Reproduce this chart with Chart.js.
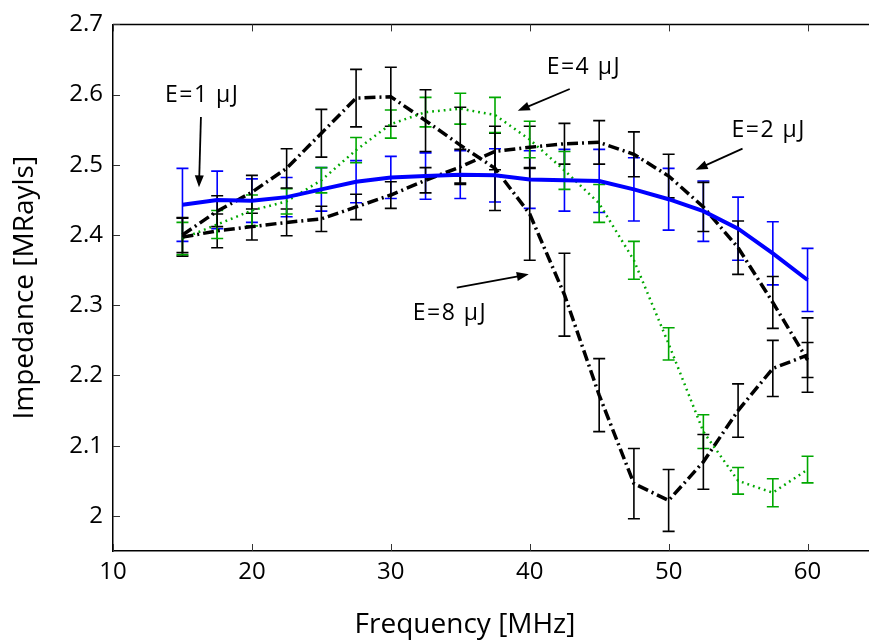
<!DOCTYPE html>
<html>
<head>
<meta charset="utf-8">
<script src="https://cdn.jsdelivr.net/npm/chart.js@4.4.0/dist/chart.umd.min.js"></script>
<style>
  html, body { margin: 0; padding: 0; overflow: hidden; background: #fff; }
  canvas { display: block; }
</style>
</head>
<body>
<canvas id="graph" width="878" height="643" style="width:878px;height:643px"></canvas>
<script>
// frequency [MHz]
const freq = [15, 17.5, 20, 22.5, 25, 27.5, 30, 32.5, 35, 37.5, 40, 42.5, 45, 47.5, 50, 52.5, 55, 57.5, 60];

// impedance [MRayls] and error (half bar) per energy
const e1 = [2.443, 2.45, 2.449, 2.454, 2.465, 2.476, 2.482, 2.484, 2.486, 2.485, 2.479, 2.478, 2.477, 2.465, 2.451, 2.434, 2.409, 2.374, 2.336];
const e1Err = [0.052, 0.041, 0.031, 0.028, 0.031, 0.03, 0.03, 0.033, 0.034, 0.038, 0.041, 0.044, 0.045, 0.045, 0.044, 0.043, 0.045, 0.045, 0.045];

const e2 = [2.397, 2.406, 2.412, 2.418, 2.423, 2.44, 2.457, 2.478, 2.497, 2.519, 2.525, 2.53, 2.532, 2.515, 2.484, 2.44, 2.382, 2.304, 2.222];
const e2Err = [0.027, 0.024, 0.019, 0.019, 0.018, 0.018, 0.019, 0.018, 0.025, 0.026, 0.03, 0.029, 0.031, 0.032, 0.031, 0.035, 0.038, 0.037, 0.025];

const e4 = [2.395, 2.415, 2.435, 2.448, 2.478, 2.521, 2.558, 2.575, 2.58, 2.571, 2.536, 2.492, 2.445, 2.364, 2.245, 2.12, 2.05, 2.033, 2.066];
const e4Err = [0.023, 0.02, 0.022, 0.018, 0.018, 0.018, 0.02, 0.021, 0.022, 0.025, 0.026, 0.027, 0.027, 0.027, 0.023, 0.024, 0.019, 0.02, 0.019];

const e8 = [2.4, 2.434, 2.461, 2.495, 2.545, 2.595, 2.597, 2.563, 2.528, 2.495, 2.43, 2.315, 2.172, 2.046, 2.022, 2.077, 2.15, 2.21, 2.229];
const e8Err = [0.025, 0.022, 0.024, 0.028, 0.034, 0.041, 0.042, 0.044, 0.054, 0.06, 0.066, 0.059, 0.052, 0.05, 0.044, 0.039, 0.038, 0.04, 0.053];

const xTicks = [10, 20, 30, 40, 50, 60];
const yTicks = [2, 2.1, 2.2, 2.3, 2.4, 2.5, 2.6, 2.7];

// labels with arrows, in data coordinates
const notes = [
  { label: "E=1 μJ", at: [13.74, 2.589], from: [16.33, 2.568], to: [16.19, 2.468] },
  { label: "E=4 μJ", at: [41.22, 2.630], from: [42.88, 2.608], to: [39.14, 2.577] },
  { label: "E=2 μJ", at: [54.53, 2.539], from: [55.32, 2.523], to: [51.94, 2.493] },
  { label: "E=8 μJ", at: [31.58, 2.279], from: [34.75, 2.325], to: [39.93, 2.344] },
];

const FONT = '"Open Sans", "DejaVu Sans", sans-serif';

const errorBars = {
  id: "errorBars",
  beforeDatasetsDraw(chart) {
    const { ctx, scales: { x, y } } = chart;
    ctx.save();
    chart.data.datasets.forEach((ds) => {
      ctx.strokeStyle = ds.barColor;
      ctx.lineWidth = 1.6;
      ds.data.forEach((p, i) => {
        const px = x.getPixelForValue(p.x);
        const top = y.getPixelForValue(p.y + ds.errors[i]);
        const bot = y.getPixelForValue(p.y - ds.errors[i]);
        ctx.beginPath();
        ctx.moveTo(px, top);
        ctx.lineTo(px, bot);
        ctx.moveTo(px - 6, top);
        ctx.lineTo(px + 6, top);
        ctx.moveTo(px - 6, bot);
        ctx.lineTo(px + 6, bot);
        ctx.stroke();
      });
    });
    ctx.restore();
  },
};

const frame = {
  id: "frame",
  afterDraw(chart) {
    const { ctx, chartArea: a, scales: { x, y } } = chart;
    ctx.save();
    ctx.strokeStyle = "#000";
    ctx.lineWidth = 1.5;
    ctx.beginPath();
    ctx.moveTo(a.left, a.top);
    ctx.lineTo(a.right, a.top);
    ctx.stroke();

    ctx.lineWidth = 1;
    ctx.strokeStyle = "#333";
    ctx.beginPath();
    xTicks.forEach((v) => {
      const px = Math.round(x.getPixelForValue(v)) + 0.5;
      ctx.moveTo(px, a.bottom);
      ctx.lineTo(px, a.bottom - 7);
      ctx.moveTo(px, a.top);
      ctx.lineTo(px, a.top + 7);
    });
    yTicks.forEach((v) => {
      const py = Math.round(y.getPixelForValue(v)) + 0.5;
      ctx.moveTo(a.left, py);
      ctx.lineTo(a.left + 7, py);
    });
    ctx.stroke();

    // axis titles
    ctx.fillStyle = "#000";
    ctx.font = "28px " + FONT;
    ctx.textAlign = "center";
    ctx.textBaseline = "alphabetic";
    ctx.fillText("Frequency [MHz]", 465, 633);
    ctx.translate(33, (a.top + a.bottom) / 2);
    ctx.rotate(-Math.PI / 2);
    ctx.fillText("Impedance [MRayls]", 0, 0);
    ctx.restore();

    // annotations
    ctx.save();
    ctx.fillStyle = "#000";
    ctx.strokeStyle = "#000";
    ctx.font = "23px " + FONT;
    ctx.letterSpacing = "1.5px";
    ctx.textAlign = "left";
    ctx.textBaseline = "alphabetic";
    notes.forEach((n) => {
      ctx.fillText(n.label, x.getPixelForValue(n.at[0]), y.getPixelForValue(n.at[1]));
      const x1 = x.getPixelForValue(n.from[0]);
      const y1 = y.getPixelForValue(n.from[1]);
      const x2 = x.getPixelForValue(n.to[0]);
      const y2 = y.getPixelForValue(n.to[1]);
      const ang = Math.atan2(y2 - y1, x2 - x1);
      const head = 12;
      ctx.lineWidth = 1.8;
      ctx.beginPath();
      ctx.moveTo(x1, y1);
      ctx.lineTo(x2 - Math.cos(ang) * head * 0.8, y2 - Math.sin(ang) * head * 0.8);
      ctx.stroke();
      ctx.beginPath();
      ctx.moveTo(x2, y2);
      ctx.lineTo(x2 - head * Math.cos(ang) + 4.5 * Math.sin(ang), y2 - head * Math.sin(ang) - 4.5 * Math.cos(ang));
      ctx.lineTo(x2 - head * Math.cos(ang) - 4.5 * Math.sin(ang), y2 - head * Math.sin(ang) + 4.5 * Math.cos(ang));
      ctx.closePath();
      ctx.fill();
    });
    ctx.restore();
  },
};

function toPoints(values) {
  return values.map((v, i) => ({ x: freq[i], y: v }));
}

const series = [
  { label: "E=1 μJ", values: e1, errors: e1Err, color: "#0000ff", width: 4, dash: [] },
  { label: "E=2 μJ", values: e2, errors: e2Err, color: "#000", width: 3.5, dash: [11, 4, 2, 4] },
  { label: "E=4 μJ", values: e4, errors: e4Err, color: "#00a800", width: 2.5, dash: [1.8, 4] },
  { label: "E=8 μJ", values: e8, errors: e8Err, color: "#000", width: 3.5, dash: [11, 4, 2, 4] },
];

const ctx = document.getElementById("graph").getContext("2d");
new Chart(ctx, {
  type: "line",
  data: {
    datasets: series.map((s) => ({
      label: s.label,
      data: toPoints(s.values),
      errors: s.errors,
      barColor: s.color,
      borderColor: s.color,
      borderWidth: s.width,
      borderDash: s.dash,
      pointRadius: 0,
      tension: 0,
      fill: false,
    })),
  },
  options: {
    responsive: false,
    animation: false,
    devicePixelRatio: 1,
    layout: { padding: { top: 18, right: 1, left: 0, bottom: 0 } },
    plugins: { legend: { display: false }, tooltip: { enabled: false } },
    scales: {
      x: {
        type: "linear",
        min: 10,
        max: 65,
        afterBuildTicks: (scale) => { scale.ticks = xTicks.map((v) => ({ value: v })); },
        afterFit: (scale) => { scale.height = 92; },
        grid: { drawOnChartArea: false, drawTicks: false },
        border: { display: true, color: "#000", width: 1.5 },
        ticks: { color: "#000", padding: 7, maxRotation: 0, font: { size: 24, family: FONT } },
      },
      y: {
        min: 1.95,
        max: 2.7,
        afterBuildTicks: (scale) => { scale.ticks = yTicks.map((v) => ({ value: v })); },
        afterFit: (scale) => { scale.width = 113; },
        grid: { drawOnChartArea: false, drawTicks: false },
        border: { display: true, color: "#000", width: 1.5 },
        ticks: {
          color: "#000",
          padding: 10,
          font: { size: 24, family: FONT },
          callback: (v) => String(+Number(v).toFixed(1)),
        },
      },
    },
  },
  plugins: [errorBars, frame],
});
</script>
</body>
</html>
